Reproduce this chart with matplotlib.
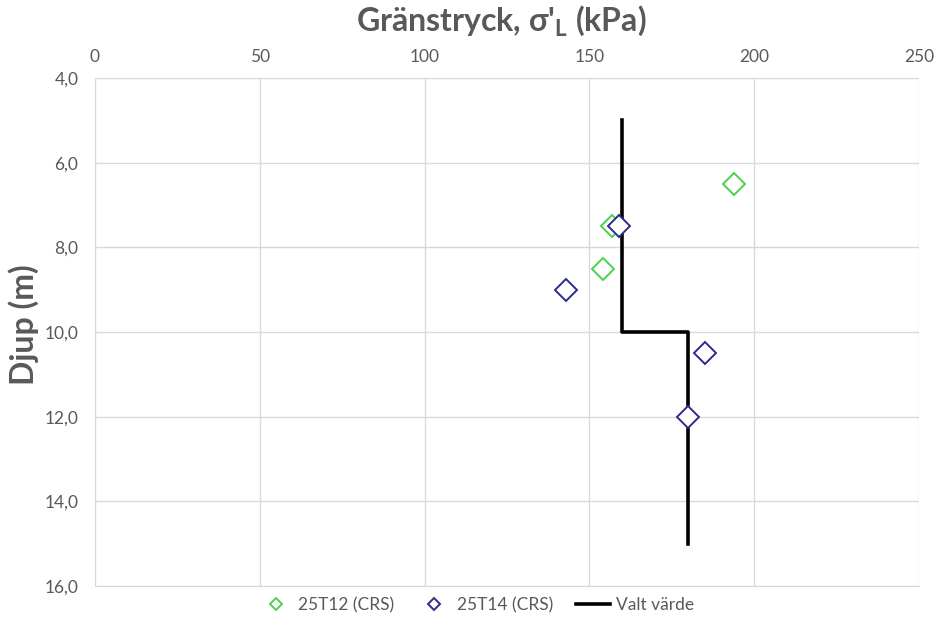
import matplotlib.pyplot as plt
from matplotlib.ticker import FuncFormatter

plt.rcParams['font.family'] = ['Lato', 'DejaVu Sans']

# 25T12 (CRS)
t12_x = [194, 157, 154]
t12_depth = [6.5, 7.5, 8.5]

# 25T14 (CRS)
t14_x = [159, 143, 185, 180]
t14_depth = [7.5, 9.0, 10.5, 12.0]

# chosen value profile
valt_x = [160, 160, 180, 180]
valt_depth = [5.0, 10.0, 10.0, 15.0]

xticks = [0, 50, 100, 150, 200, 250]
yticks = [4, 6, 8, 10, 12, 14, 16]

grey = '#595959'
gridc = '#d9d9d9'

fig = plt.figure(figsize=(9.34, 6.39), dpi=100)
ax = fig.add_axes([95 / 934, 1 - 586 / 639, 824 / 934, 508 / 639])

ax.plot(valt_x, valt_depth, color='black', lw=2.6, label='Valt värde', zorder=2)
ax.plot(t12_x, t12_depth, ls='none', marker='D', ms=11, mfc='none', mec='#4dd04d',
        mew=1.4, label='25T12 (CRS)', zorder=3)
ax.plot(t14_x, t14_depth, ls='none', marker='D', ms=11, mfc='white', mec='#2e2a8c',
        mew=1.4, label='25T14 (CRS)', zorder=4)

ax.set_xlim(0, 250)
ax.set_ylim(16, 4)
ax.set_xticks(xticks)
ax.set_yticks(yticks)
ax.yaxis.set_major_formatter(FuncFormatter(lambda v, p: f'{v:.1f}'.replace('.', ',')))
ax.xaxis.tick_top()
ax.tick_params(length=0, colors=grey, labelsize=12.5)
ax.tick_params(axis='x', pad=9)
ax.tick_params(axis='y', pad=12)
ax.grid(True, color=gridc, lw=1)
ax.set_axisbelow(True)
for s in ax.spines.values():
    s.set_visible(False)
ax.spines['left'].set_visible(True)
ax.spines['left'].set_color(gridc)
ax.spines['bottom'].set_visible(True)
ax.spines['bottom'].set_color(gridc)

fig.text(0.537, 1 - 21 / 639, "Gränstryck, σ'$_\\mathregular{L}$ (kPa)", ha='center', va='center',
         fontsize=23, fontweight='bold', color=grey)
fig.text(24 / 934, 1 - 325 / 639, 'Djup (m)', rotation=90,
         ha='center', va='center', fontsize=23, fontweight='bold', color=grey)

h, l = ax.get_legend_handles_labels()
order = [1, 2, 0]
leg = fig.legend([h[i] for i in order], [l[i] for i in order], loc='center',
                 bbox_to_anchor=(476 / 934, 1 - 605 / 639), ncol=3, frameon=False,
                 fontsize=12.5, markerscale=0.6, handlelength=2.0, handletextpad=0.3,
                 columnspacing=1.3)
for t in leg.get_texts():
    t.set_color(grey)

fig.savefig('out.png', dpi=100)
